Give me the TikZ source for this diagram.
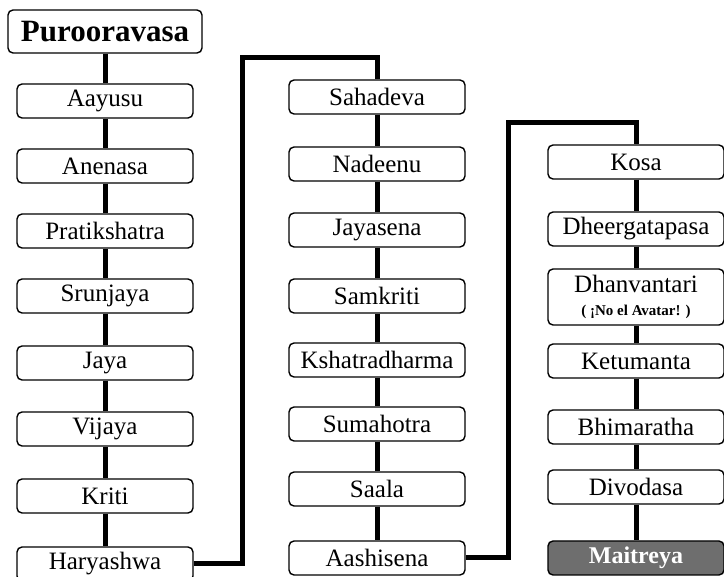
\documentclass[tikz,border=0pt]{standalone}
\usepackage{fontspec}
\setmainfont{Liberation Serif}

\begin{document}
\begin{tikzpicture}[x=1pt,y=-1pt,king/.style={shape=rectangle,rounded corners=5pt,draw=black,line width=1.4pt,fill=white,minimum width=176pt,minimum height=34pt,inner sep=0pt,font=\fontsize{25}{27}\selectfont},kingT/.style={king,minimum width=194pt,minimum height=43pt,font=\fontsize{31}{33}\selectfont\bfseries},kingM/.style={king,fill=black!57,text=white,font=\fontsize{24}{26}\selectfont\bfseries},bond/.style={line width=5pt}]
\def\xa{105};
\def\xb{377};
\def\xc{636};

\useasboundingbox (0,0) rectangle (724,577);

% first column
\node[kingT] (P) at (\xa,31.5) {Purooravasa};
\node[king] (Aay) at (\xa,101) {Aayusu};
\draw[bond] (P.south) -- (Aay.north);
\node[king] (Ane) at (\xa,166) {Anenasa};
\draw[bond] (Aay.south) -- (Ane.north);
\node[king] (Pra) at (\xa,231) {Pratikshatra};
\draw[bond] (Ane.south) -- (Pra.north);
\node[king] (Sru) at (\xa,296) {Srunjaya};
\draw[bond] (Pra.south) -- (Sru.north);
\node[king] (Jay) at (\xa,363) {Jaya};
\draw[bond] (Sru.south) -- (Jay.north);
\node[king] (Vij) at (\xa,429) {Vijaya};
\draw[bond] (Jay.south) -- (Vij.north);
\node[king] (Kri) at (\xa,496) {Kriti};
\draw[bond] (Vij.south) -- (Kri.north);
\node[king] (Har) at (\xa,564) {Haryashwa};
\draw[bond] (Kri.south) -- (Har.north);

% second column
\node[king] (Sah) at (\xb,97) {Sahadeva};
\coordinate (turnA) at (242,58);
\draw[bond] (Har.east) -| (turnA) -| (Sah.north);
\node[king] (Nad) at (\xb,164) {Nadeenu};
\draw[bond] (Sah.south) -- (Nad.north);
\node[king] (Jys) at (\xb,230) {Jayasena};
\draw[bond] (Nad.south) -- (Jys.north);
\node[king] (Sam) at (\xb,296) {Samkriti};
\draw[bond] (Jys.south) -- (Sam.north);
\node[king] (Ksh) at (\xb,360) {Kshatradharma};
\draw[bond] (Sam.south) -- (Ksh.north);
\node[king] (Sum) at (\xb,424) {Sumahotra};
\draw[bond] (Ksh.south) -- (Sum.north);
\node[king] (Saa) at (\xb,489) {Saala};
\draw[bond] (Sum.south) -- (Saa.north);
\node[king] (Aas) at (\xb,558) {Aashisena};
\draw[bond] (Saa.south) -- (Aas.north);

% third column
\node[king] (Kos) at (\xc,162) {Kosa};
\coordinate (turnB) at (508,123);
\draw[bond] (Aas.east) -| (turnB) -| (Kos.north);
\node[king] (Dhe) at (\xc,229) {Dheergatapasa};
\draw[bond] (Kos.south) -- (Dhe.north);
\node[king,minimum height=56pt,align=center] (Dha) at (\xc,297) {Dhanvantari\\[-4pt]{\fontsize{15}{16}\selectfont\bfseries ( ¡No el Avatar! )}};
\draw[bond] (Dhe.south) -- (Dha.north);
\node[king] (Ket) at (\xc,361) {Ketumanta};
\draw[bond] (Dha.south) -- (Ket.north);
\node[king] (Bhi) at (\xc,427) {Bhimaratha};
\draw[bond] (Ket.south) -- (Bhi.north);
\node[king] (Div) at (\xc,487) {Divodasa};
\draw[bond] (Bhi.south) -- (Div.north);
\node[kingM] (Mai) at (\xc,558) {Maitreya};
\draw[bond] (Div.south) -- (Mai.north);
\end{tikzpicture}
\end{document}
